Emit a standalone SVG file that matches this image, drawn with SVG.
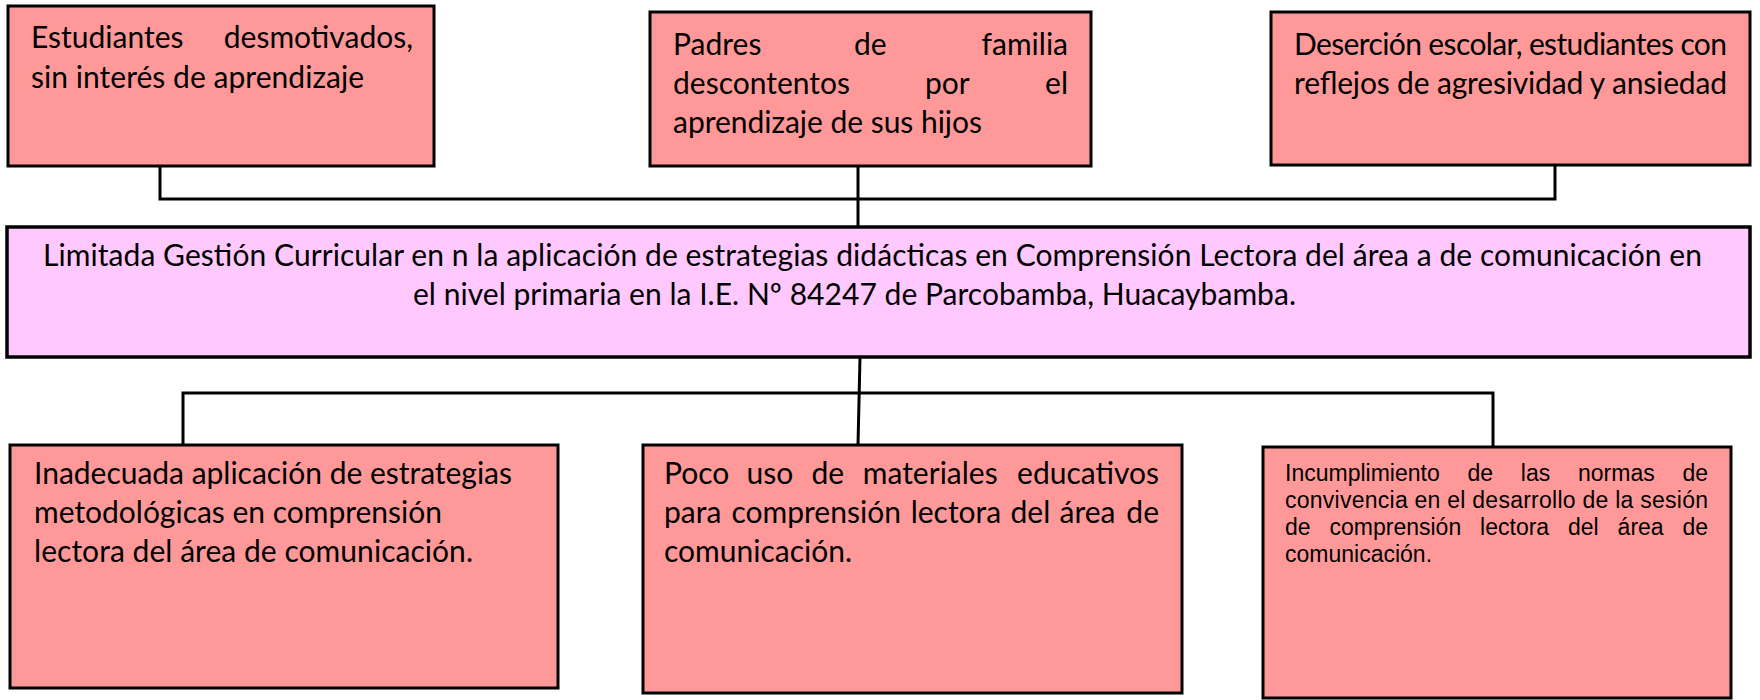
<svg xmlns="http://www.w3.org/2000/svg" width="1760" height="700" viewBox="0 0 1760 700">
<style>
.box{fill:#FF9999;stroke:#000;stroke-width:3}
.main{fill:#FFC9FF;stroke:#000;stroke-width:3.5}
.t{font-family:Lato,"Open Sans","Liberation Sans",sans-serif;font-size:30px;fill:#000}
.s{font-family:"Liberation Sans",Arial,sans-serif;font-size:23px;fill:#000}
.e{text-anchor:end}
.ln{stroke:#000;stroke-width:3;fill:none}
</style>
<rect width="1760" height="700" fill="#fff"/>
<g id="connectors">
<polyline class="ln" points="160,166 160,199 1555,199 1555,165"/>
<line class="ln" x1="858" y1="166" x2="858" y2="227"/>
<line class="ln" x1="860" y1="357" x2="858" y2="445"/>
<polyline class="ln" points="183,445 183,393 1493,393 1493,447"/>
</g>
<g id="effect1">
<rect class="box" x="8" y="6" width="426" height="160"/>
<text class="t" x="31" y="48">Estudiantes</text>
<text class="t e" x="413" y="48">desmotivados,</text>
<text class="t" x="31" y="88" textLength="333">sin interés de aprendizaje</text>
</g>
<g id="effect2">
<rect class="box" x="650" y="12" width="441" height="154"/>
<text class="t" x="673" y="55">Padres</text>
<text class="t" x="854" y="55">de</text>
<text class="t e" x="1068" y="55">familia</text>
<text class="t" x="673" y="94">descontentos</text>
<text class="t" x="925" y="94">por</text>
<text class="t e" x="1068" y="94">el</text>
<text class="t" x="673" y="133" textLength="309">aprendizaje de sus hijos</text>
</g>
<g id="effect3">
<rect class="box" x="1271" y="12" width="479" height="153"/>
<text class="t" x="1294" y="55" textLength="433">Deserción escolar, estudiantes con</text>
<text class="t" x="1294" y="94" textLength="433">reflejos de agresividad y ansiedad</text>
</g>
<g id="problem">
<rect class="main" x="7" y="227" width="1743" height="130"/>
<text class="t" x="43" y="266" textLength="1659">Limitada Gestión Curricular en n la aplicación de estrategias didácticas en Comprensión Lectora del área a de comunicación en</text>
<text class="t" x="413" y="305" textLength="883">el nivel primaria en la I.E. Nº 84247 de Parcobamba, Huacaybamba.</text>
</g>
<g id="cause1">
<rect class="box" x="10" y="445" width="548" height="243"/>
<text class="t" x="34" y="484" textLength="478">Inadecuada aplicación de estrategias</text>
<text class="t" x="34" y="523" textLength="408">metodológicas en comprensión</text>
<text class="t" x="34" y="562" textLength="439">lectora del área de comunicación.</text>
</g>
<g id="cause2">
<rect class="box" x="643" y="445" width="539" height="248"/>
<text class="t" x="664" y="484">Poco</text>
<text class="t" x="746.5" y="484">uso</text>
<text class="t" x="811.4" y="484">de</text>
<text class="t" x="862.8" y="484">materiales</text>
<text class="t e" x="1159" y="484">educativos</text>
<text class="t" x="664" y="523">para</text>
<text class="t" x="731.5" y="523">comprensión</text>
<text class="t" x="910.7" y="523">lectora</text>
<text class="t" x="1010.5" y="523">del</text>
<text class="t" x="1059.5" y="523">área</text>
<text class="t e" x="1159" y="523">de</text>
<text class="t" x="664" y="562">comunicación.</text>
</g>
<g id="cause3">
<rect class="box" x="1263" y="447" width="468" height="251"/>
<text class="s" x="1285" y="481">Incumplimiento</text>
<text class="s" x="1467.5" y="481">de</text>
<text class="s" x="1520.8" y="481">las</text>
<text class="s" x="1578" y="481">normas</text>
<text class="s e" x="1708" y="481">de</text>
<text class="s" x="1285" y="508" textLength="423">convivencia en el desarrollo de la sesión</text>
<text class="s" x="1285" y="535">de</text>
<text class="s" x="1329.5" y="535">comprensión</text>
<text class="s" x="1480.1" y="535">lectora</text>
<text class="s" x="1568" y="535">del</text>
<text class="s" x="1617.6" y="535">área</text>
<text class="s e" x="1708" y="535">de</text>
<text class="s" x="1285" y="562">comunicación.</text>
</g>
</svg>
